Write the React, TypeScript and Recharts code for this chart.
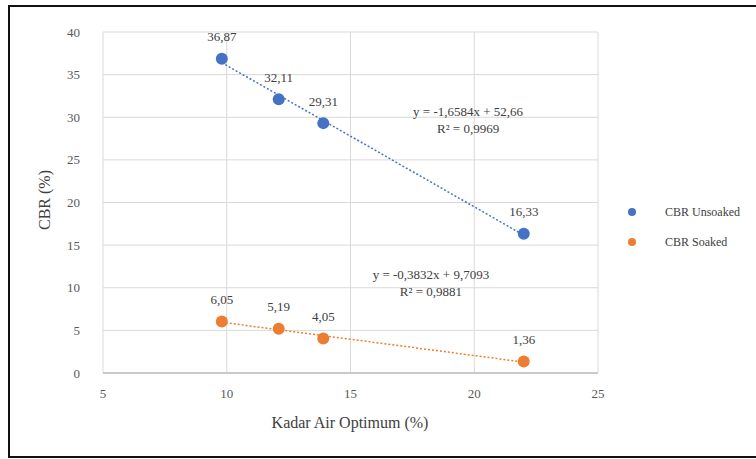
import React from 'react';
import {
  ScatterChart,
  Scatter,
  XAxis,
  YAxis,
  CartesianGrid,
  LabelList,
  ReferenceDot,
} from 'recharts';

// Kadar air optimum (%) for each sample
const kadarAir = [9.8, 12.1, 13.9, 22.0];
const cbrUnsoaked = [36.87, 32.11, 29.31, 16.33];
const cbrSoaked = [6.05, 5.19, 4.05, 1.36];

const xTicks = [5, 10, 15, 20, 25];
const yTicks = [0, 5, 10, 15, 20, 25, 30, 35, 40];

// linear trendline coefficients, as printed on the chart
const unsoakedFit = { slope: -1.6584, intercept: 52.66, r2: 0.9969 };
const soakedFit = { slope: -0.3832, intercept: 9.7093, r2: 0.9881 };

const BLUE = '#4472C4';
const ORANGE = '#ED7D31';
const FONT = 'Liberation Serif, DejaVu Serif, serif';

const fmt = (v: number) => String(v).replace('.', ',');

const unsoakedData = kadarAir.map((x, i) => ({ x, y: cbrUnsoaked[i] }));
const soakedData = kadarAir.map((x, i) => ({ x, y: cbrSoaked[i] }));

const trend = (fit: { slope: number; intercept: number }) => {
  const xs = [Math.min(...kadarAir), Math.max(...kadarAir)];
  return xs.map((x) => ({ x, y: fit.slope * x + fit.intercept }));
};

const Dot = (color: string) => (props: any) => (
  <circle cx={props.cx} cy={props.cy} r={6} fill={color} />
);

const PointLabel = (props: any) => {
  const { x, y, width, value } = props;
  const cx = x + (width || 0) / 2;
  return (
    <text x={cx} y={y - 13} textAnchor="middle" fontSize={13} fill="#404040" style={{ fontFamily: FONT }}>
      {fmt(value)}
    </text>
  );
};

const EqLabel = (lines: string[]) => (props: any) => {
  const { viewBox } = props;
  const cx = viewBox.x + (viewBox.width || 0) / 2;
  const cy = viewBox.y + (viewBox.height || 0) / 2;
  return (
    <text x={cx} y={cy} textAnchor="middle" fontSize={13} fill="#404040" style={{ fontFamily: FONT }}>
      {lines.map((l, i) => (
        <tspan key={i} x={cx} dy={i === 0 ? 0 : 17}>
          {l}
        </tspan>
      ))}
    </text>
  );
};

const tickStyle = { fontSize: 13, fill: '#595959', style: { fontFamily: FONT } };

export default function App() {
  return (
    <div style={{ position: 'absolute', left: 0, top: 0, width: 756, height: 459, background: '#fff', overflow: 'hidden', fontFamily: FONT }}>
      {/* outer frame */}
      <div
        style={{
          position: 'absolute',
          left: 8,
          top: 5,
          width: 760,
          height: 453,
          borderTop: '2px solid #111',
          borderLeft: '2px solid #111',
          borderBottom: '2px solid #111',
          boxSizing: 'border-box',
        }}
      />
      <div style={{ position: 'absolute', left: 0, top: 0 }}>
        <ScatterChart width={756} height={459} margin={{ top: 32, right: 158, bottom: 56, left: 63 }}>
          <CartesianGrid stroke="#d9d9d9" horizontalValues={yTicks} verticalValues={xTicks} />
          <XAxis
            type="number"
            dataKey="x"
            domain={[5, 25]}
            ticks={xTicks}
            height={30}
            tickSize={0}
            tickMargin={16}
            axisLine={{ stroke: '#bfbfbf', strokeWidth: 1.5 }}
            tick={tickStyle}
          />
          <YAxis
            type="number"
            dataKey="y"
            domain={[0, 40]}
            ticks={yTicks}
            width={40}
            tickSize={0}
            tickMargin={23}
            axisLine={false}
            tick={tickStyle}
          />
          <Scatter
            data={trend(unsoakedFit)}
            line={{ stroke: BLUE, strokeWidth: 1.5, strokeDasharray: '2 2' }}
            shape={() => null}
            isAnimationActive={false}
          />
          <Scatter
            data={trend(soakedFit)}
            line={{ stroke: ORANGE, strokeWidth: 1.5, strokeDasharray: '2 2' }}
            shape={() => null}
            isAnimationActive={false}
          />
          <Scatter name="CBR Unsoaked" data={unsoakedData} fill={BLUE} shape={Dot(BLUE)} isAnimationActive={false}>
            <LabelList dataKey="y" content={PointLabel} />
          </Scatter>
          <Scatter name="CBR Soaked" data={soakedData} fill={ORANGE} shape={Dot(ORANGE)} isAnimationActive={false}>
            <LabelList dataKey="y" content={PointLabel} />
          </Scatter>
          <ReferenceDot
            x={19.75}
            y={30.1}
            r={0}
            label={EqLabel([
              `y = ${fmt(unsoakedFit.slope)}x + ${fmt(unsoakedFit.intercept)}`,
              `R² = ${fmt(unsoakedFit.r2)}`,
            ])}
          />
          <ReferenceDot
            x={18.25}
            y={11.0}
            r={0}
            label={EqLabel([
              `y = ${fmt(soakedFit.slope)}x + ${fmt(soakedFit.intercept)}`,
              `R² = ${fmt(soakedFit.r2)}`,
            ])}
          />
        </ScatterChart>
      </div>
      {/* axis titles */}
      <div
        style={{
          position: 'absolute',
          left: 45,
          top: 200,
          transform: 'translate(-50%, -50%) rotate(-90deg)',
          whiteSpace: 'nowrap',
          fontSize: 16,
          color: '#404040',
        }}
      >
        CBR (%)
      </div>
      <div
        style={{
          position: 'absolute',
          left: 350,
          top: 423,
          transform: 'translate(-50%, -50%)',
          whiteSpace: 'nowrap',
          fontSize: 16,
          color: '#404040',
        }}
      >
        Kadar Air Optimum (%)
      </div>
      {/* legend */}
      {[
        { name: 'CBR Unsoaked', color: BLUE, y: 212 },
        { name: 'CBR Soaked', color: ORANGE, y: 242 },
      ].map((item) => (
        <div key={item.name}>
          <div
            style={{
              position: 'absolute',
              left: 628,
              top: item.y - 4,
              width: 8,
              height: 8,
              borderRadius: '50%',
              background: item.color,
            }}
          />
          <div
            style={{
              position: 'absolute',
              left: 665,
              top: item.y - 8,
              fontSize: 12,
              color: '#404040',
              whiteSpace: 'nowrap',
              lineHeight: '16px',
            }}
          >
            {item.name}
          </div>
        </div>
      ))}
    </div>
  );
}
